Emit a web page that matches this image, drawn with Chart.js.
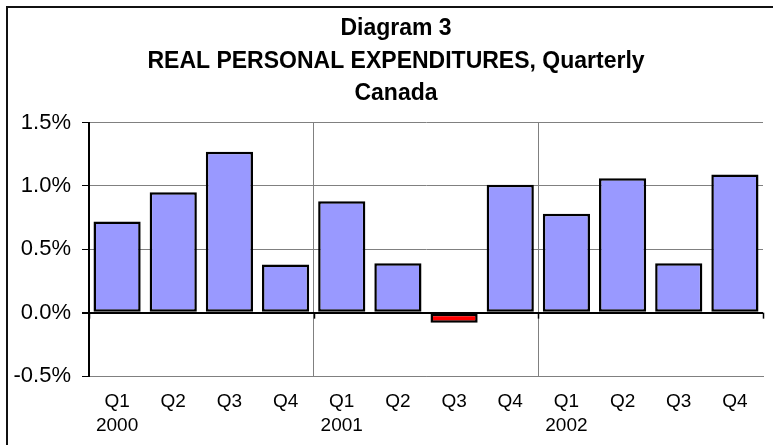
<!DOCTYPE html>
<html>
<head>
<meta charset="utf-8">
<script src="https://cdn.jsdelivr.net/npm/chart.js@4"></script>
<style>
  html, body { margin: 0; padding: 0; background: #fff; }
  #wrap { width: 775px; height: 445px; position: relative; }
</style>
</head>
<body>
<div id="wrap"><canvas id="chart"></canvas></div>
<script>
// data
const quarters = ['Q1', 'Q2', 'Q3', 'Q4', 'Q1', 'Q2', 'Q3', 'Q4', 'Q1', 'Q2', 'Q3', 'Q4'];
const years = ['2000', '', '', '', '2001', '', '', '', '2002', '', '', ''];
const growth = [0.72, 0.95, 1.27, 0.38, 0.88, 0.39, -0.08, 1.01, 0.78, 1.06, 0.39, 1.09];
const yTicks = [-0.5, 0, 0.5, 1.0, 1.5];
const titleLines = ['Diagram 3', 'REAL PERSONAL EXPENDITURES, Quarterly', 'Canada'];

const FONT = "'Liberation Sans', Arial, sans-serif";

// outer frame + little ticks under the zero line at the year breaks
const framePlugin = {
  id: 'frame',
  afterLayout(chart) {
    // the title sits a bit right of the canvas centre in the original
    if (chart.titleBlock) chart.titleBlock.left += 17;
  },
  afterDraw(chart) {
    const ctx = chart.ctx;
    ctx.save();
    ctx.strokeStyle = '#111';
    ctx.lineWidth = 2;
    ctx.beginPath();
    ctx.moveTo(7, 445);
    ctx.lineTo(7, 7);
    ctx.lineTo(773, 7);
    ctx.stroke();

    const x = chart.scales.x, y = chart.scales.y;
    const y0 = y.getPixelForValue(0);
    const step = x.width / quarters.length;
    ctx.lineWidth = 1.5;
    ctx.strokeStyle = '#000';
    for (let i = 0; i <= quarters.length; i += 4) {
      const px = Math.round(x.left + i * step) + 0.5;
      ctx.beginPath();
      ctx.moveTo(px, y0);
      ctx.lineTo(px, y0 + 6);
      ctx.stroke();
    }
    ctx.restore();
  }
};

new Chart(document.getElementById('chart'), {
  type: 'bar',
  data: {
    labels: quarters.map((q, i) => [q, years[i]]),
    datasets: [{
      data: growth,
      backgroundColor: growth.map(v => (v < 0 ? '#ff0000' : '#9999ff')),
      borderColor: '#000',
      borderWidth: 2.5,
      borderSkipped: false,
      barPercentage: 0.84,
      categoryPercentage: 1
    }]
  },
  options: {
    responsive: true,
    maintainAspectRatio: false,
    animation: false,
    layout: { padding: { left: 12, right: 12, top: 0, bottom: 0 } },
    plugins: {
      legend: { display: false },
      tooltip: { enabled: false },
      title: {
        display: true,
        text: titleLines,
        color: '#000',
        font: { family: FONT, size: 23, weight: 'bold', lineHeight: 1.4 },
        padding: { top: 13, bottom: 13 }
      }
    },
    scales: {
      x: {
        grid: {
          offset: true,
          drawTicks: false,
          color: ctx => (ctx.index % 4 === 0 ? '#808080' : 'rgba(0,0,0,0)'),
          lineWidth: 1
        },
        border: { display: true, color: '#808080', width: 1 },
        ticks: {
          color: '#000',
          padding: 13,
          maxRotation: 0,
          autoSkip: false,
          font: { family: FONT, size: 19, lineHeight: 1.3 }
        },
        afterFit: s => { s.height = 69; }
      },
      y: {
        min: -0.5,
        max: 1.5,
        afterBuildTicks: s => { s.ticks = yTicks.map(v => ({ value: v })); },
        grid: {
          color: ctx => (ctx.tick && ctx.tick.value === 0 ? '#000' : '#808080'),
          lineWidth: ctx => (ctx.tick && ctx.tick.value === 0 ? 2 : 1),
          tickColor: '#000',
          tickLength: 7
        },
        border: { display: true, color: '#000', width: 2 },
        ticks: {
          color: '#000',
          padding: 11,
          font: { family: FONT, size: 22 },
          callback: v => v.toFixed(1) + '%'
        },
        afterFit: s => { s.width = 77; }
      }
    }
  },
  plugins: [framePlugin]
});
</script>
</body>
</html>
